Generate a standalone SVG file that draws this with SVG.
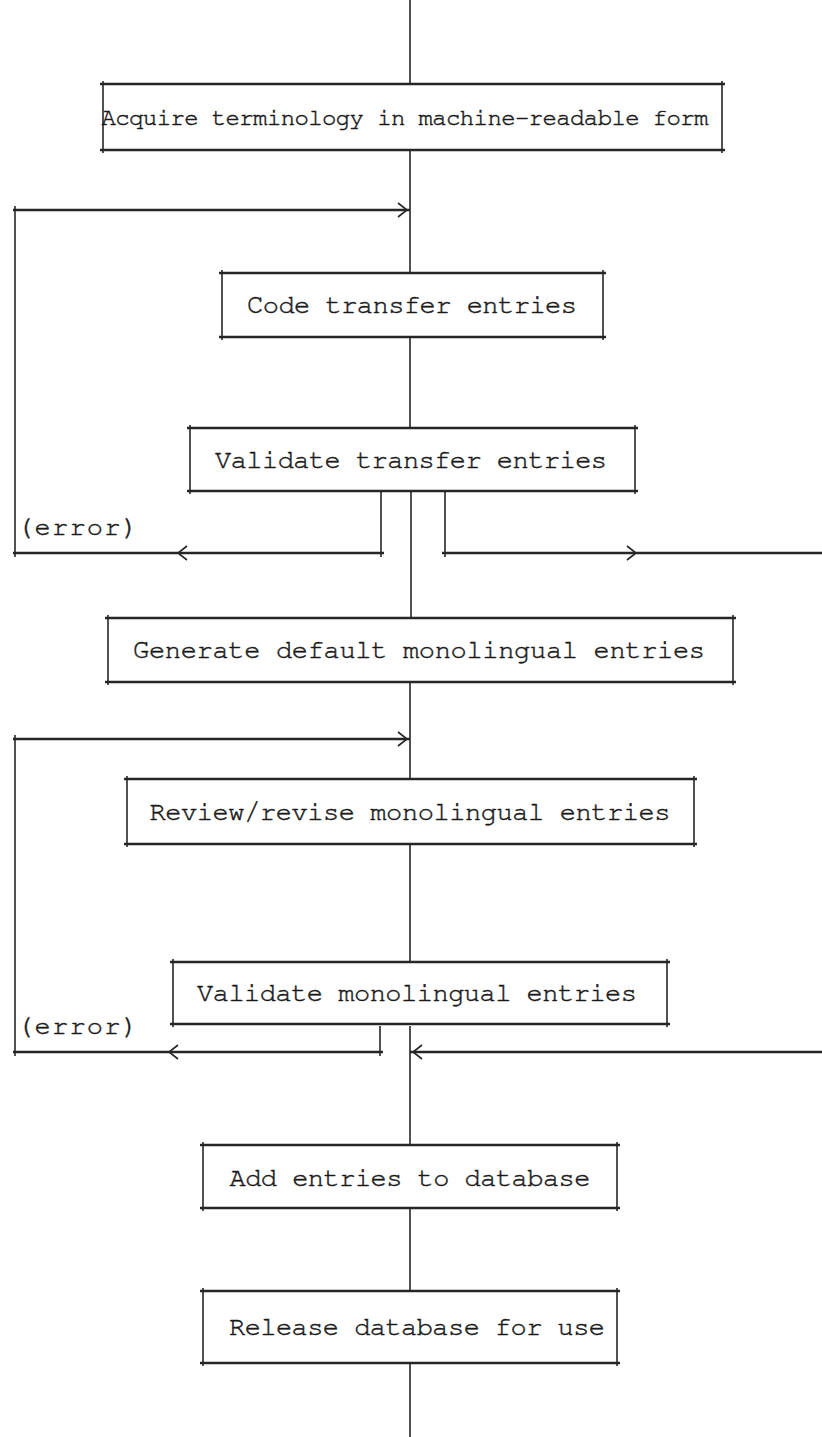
<svg xmlns="http://www.w3.org/2000/svg" width="822" height="1437" viewBox="0 0 822 1437">
<style>
  .bx line { stroke:#262626; stroke-width:2.4; }
  .bx line.v { stroke-width:1.6; }
  .t { font-family:"Nimbus Mono PS","Nimbus Mono L","FreeMono","Courier","Liberation Mono",monospace; font-size:27px; fill:#1a1a1a; stroke:#1a1a1a; stroke-width:0.5; text-anchor:middle; }
  .t.n { font-size:24px; }
  .lbl { font-family:"Nimbus Mono PS","Nimbus Mono L","FreeMono","Courier","Liberation Mono",monospace; font-size:27px; fill:#1a1a1a; stroke:#1a1a1a; stroke-width:0.5; }
  .c line { stroke:#262626; fill:none; }
  .c .h { stroke-width:2.6; }
  .c .v { stroke-width:1.6; }
  .ah { stroke:#262626; stroke-width:1.6; fill:none; }
</style>
<defs>
  <path id="ar" class="ah" d="M-9,-7 L0,0 L-9,7"/>
</defs>
<rect width="822" height="1437" fill="#ffffff"/>

<g id="connectors" class="c">
  <line class="v" x1="410" y1="0" x2="410" y2="84"/>
  <line class="v" x1="410" y1="150" x2="410" y2="273"/>
  <line class="v" x1="410" y1="337" x2="410" y2="428"/>
  <line class="v" x1="411" y1="491" x2="411" y2="618"/>
  <line class="v" x1="410" y1="682" x2="410" y2="779"/>
  <line class="v" x1="410" y1="844" x2="410" y2="962"/>
  <line class="v" x1="410" y1="1026" x2="410" y2="1145"/>
  <line class="v" x1="410" y1="1208" x2="410" y2="1291"/>
  <line class="v" x1="410" y1="1363" x2="410" y2="1437"/>
  <!-- loop 1 -->
  <line class="h" x1="13" y1="210" x2="410" y2="210"/>
  <use href="#ar" transform="translate(407,210)"/>
  <line class="v" x1="15" y1="206" x2="15" y2="557"/>
  <line class="v" x1="381" y1="491" x2="381" y2="557"/>
  <line class="h" x1="13" y1="553" x2="384" y2="553"/>
  <use href="#ar" transform="translate(178,553) rotate(180)"/>
  <!-- exit right -->
  <line class="v" x1="445" y1="491" x2="445" y2="557"/>
  <line class="h" x1="442" y1="553" x2="822" y2="553"/>
  <use href="#ar" transform="translate(636,553)"/>
  <!-- loop 2 -->
  <line class="h" x1="13" y1="739" x2="410" y2="739"/>
  <use href="#ar" transform="translate(407,739)"/>
  <line class="v" x1="15" y1="735" x2="15" y2="1056"/>
  <line class="v" x1="380" y1="1026" x2="380" y2="1056"/>
  <line class="h" x1="13" y1="1052" x2="383" y2="1052"/>
  <use href="#ar" transform="translate(169,1052) rotate(180)"/>
  <!-- return from right -->
  <line class="h" x1="410" y1="1052" x2="822" y2="1052"/>
  <use href="#ar" transform="translate(413,1052) rotate(180)"/>
  <text class="lbl" x="17" y="535" textLength="121" lengthAdjust="spacing">(error)</text>
  <text class="lbl" x="17" y="1034" textLength="121" lengthAdjust="spacing">(error)</text>
</g>

<g id="n1" class="bx">
  <line x1="100" y1="84" x2="725" y2="84"/><line x1="100" y1="150" x2="725" y2="150"/>
  <line class="v" x1="103" y1="81" x2="103" y2="153"/><line class="v" x1="722" y1="81" x2="722" y2="153"/>
  <text class="t n" x="405" y="125" textLength="607" lengthAdjust="spacing">Acquire terminology in machine-readable form</text>
</g>
<g id="n2" class="bx">
  <line x1="219" y1="273" x2="606" y2="273"/><line x1="219" y1="337" x2="606" y2="337"/>
  <line class="v" x1="222" y1="270" x2="222" y2="340"/><line class="v" x1="603" y1="270" x2="603" y2="340"/>
  <text class="t" x="412" y="313" textLength="330" lengthAdjust="spacing">Code transfer entries</text>
</g>
<g id="n3" class="bx">
  <line x1="187" y1="428" x2="638" y2="428"/><line x1="187" y1="491" x2="638" y2="491"/>
  <line class="v" x1="190" y1="425" x2="190" y2="494"/><line class="v" x1="635" y1="425" x2="635" y2="494"/>
  <text class="t" x="411" y="468" textLength="392" lengthAdjust="spacing">Validate transfer entries</text>
</g>
<g id="n4" class="bx">
  <line x1="105" y1="618" x2="736" y2="618"/><line x1="105" y1="682" x2="736" y2="682"/>
  <line class="v" x1="108" y1="615" x2="108" y2="685"/><line class="v" x1="733" y1="615" x2="733" y2="685"/>
  <text class="t" x="419" y="658" textLength="572" lengthAdjust="spacing">Generate default monolingual entries</text>
</g>
<g id="n5" class="bx">
  <line x1="124" y1="779" x2="697" y2="779"/><line x1="124" y1="844" x2="697" y2="844"/>
  <line class="v" x1="127" y1="776" x2="127" y2="847"/><line class="v" x1="694" y1="776" x2="694" y2="847"/>
  <text class="t" x="410" y="820" textLength="521" lengthAdjust="spacing">Review/revise monolingual entries</text>
</g>
<g id="n6" class="bx">
  <line x1="170" y1="962" x2="670" y2="962"/><line x1="170" y1="1024" x2="670" y2="1024"/>
  <line class="v" x1="173" y1="959" x2="173" y2="1027"/><line class="v" x1="667" y1="959" x2="667" y2="1027"/>
  <text class="t" x="417" y="1001" textLength="440" lengthAdjust="spacing">Validate monolingual entries</text>
</g>
<g id="n7" class="bx">
  <line x1="200" y1="1145" x2="620" y2="1145"/><line x1="200" y1="1208" x2="620" y2="1208"/>
  <line class="v" x1="203" y1="1142" x2="203" y2="1211"/><line class="v" x1="617" y1="1142" x2="617" y2="1211"/>
  <text class="t" x="410" y="1186" textLength="361" lengthAdjust="spacing">Add entries to database</text>
</g>
<g id="n8" class="bx">
  <line x1="200" y1="1291" x2="620" y2="1291"/><line x1="200" y1="1363" x2="620" y2="1363"/>
  <line class="v" x1="203" y1="1288" x2="203" y2="1366"/><line class="v" x1="617" y1="1288" x2="617" y2="1366"/>
  <text class="t" x="417" y="1335" textLength="376" lengthAdjust="spacing">Release database for use</text>
</g>
</svg>
